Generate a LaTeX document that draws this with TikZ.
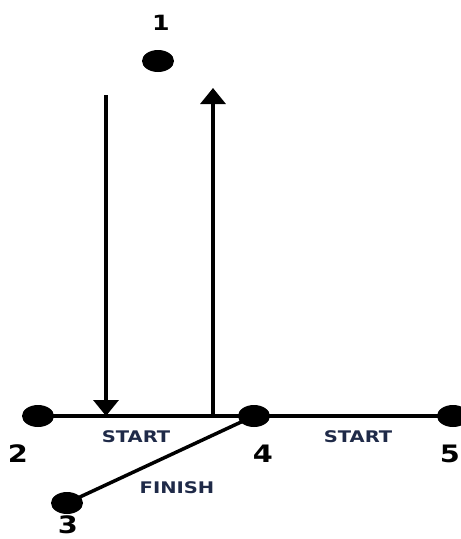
\documentclass[tikz,border=0pt]{standalone}
\usepackage{fontspec}
\setmainfont{DejaVu Sans}
\usetikzlibrary{arrows.meta,shapes.geometric}
\definecolor{navy}{RGB}{31,42,72}

\begin{document}
\begin{tikzpicture}[x=1pt,y=-1pt,line width=3.5pt,
    dot/.style={ellipse,fill=black,inner sep=0pt,minimum width=32pt,minimum height=22pt},
    num/.style={font=\bfseries\fontsize{24}{24}\selectfont,xscale=1.2,inner sep=1pt},
    tag/.style={text=navy,font=\bfseries\fontsize{16}{16}\selectfont,xscale=1.22},
    >={Triangle[width=25pt,length=16pt]}]
    \clip (0,0) rectangle (461,539);
    \useasboundingbox (0,0) rectangle (461,539);
    \node[dot] (d1) at (158,61) {};
    \node[dot] (d2) at (38,416) {};
    \node[dot] (d4) at (254,416) {};
    \node[dot] (d5) at (453,416) {};
    \node[dot] (d3) at (67,503) {};
    \node[num,font=\bfseries\fontsize{21}{21}\selectfont] (n1) at (161,23) {1};
    \node[num] (n2) at (18,454) {2};
    \node[num] (n4) at (263,454) {4};
    \node[num] (n5) at (450,454) {5};
    \node[num] (n3) at (68,525) {3};
    \node[tag] (s1) at (136,437) {START};
    \node[tag] (s2) at (358,437) {START};
    \node[tag] (fin) at (177,488) {FINISH};
    \coordinate (a) at (106,95);
    \coordinate (b) at (106,416);
    \coordinate (c) at (213,416);
    \coordinate (e) at (213,88);
    \draw (d2.center) -- (d5.center);
    \draw (d4.center) -- (d3.center);
    \draw[->] (a) -- (b);
    \draw[->] (c) -- (e);
\end{tikzpicture}
\end{document}
